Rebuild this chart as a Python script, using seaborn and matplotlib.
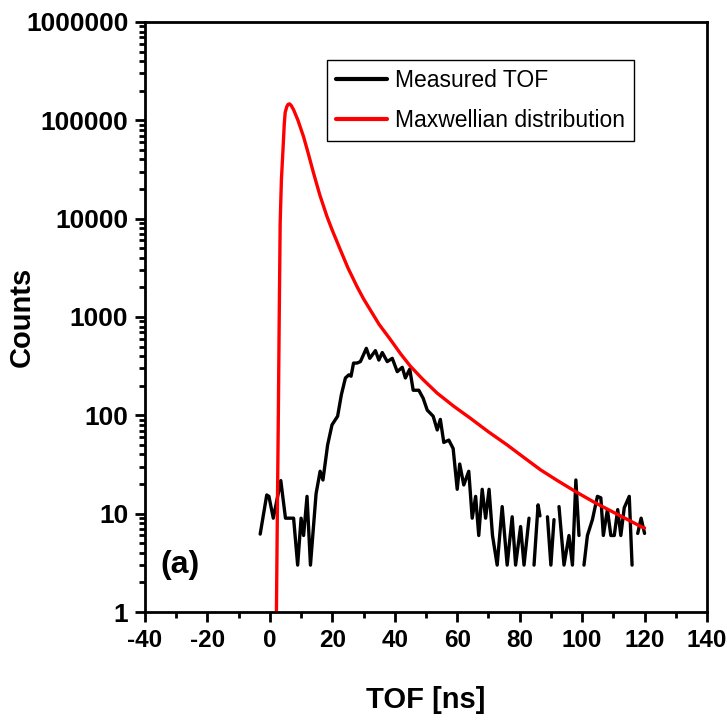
import numpy as np
import pandas as pd
import matplotlib
matplotlib.use("Agg")
import matplotlib.pyplot as plt
from matplotlib.ticker import FixedLocator, FuncFormatter, LogLocator, MultipleLocator, NullFormatter
from matplotlib.lines import Line2D
import seaborn as sns

# ---------------- data ----------------
tof_measured = [-3.1, -1.0, -0.3, 1.1, 3.5, 5.0, 6.3, 7.6, 8.9, 10.0, 10.8, 11.9, 13.0,
                14.8, 16.1, 17.0, 18.5, 19.9, 21.7, 22.9, 24.2, 25.3, 26.0, 26.8, 27.9,
                29.0, 30.9, 32.0, 33.8, 34.9, 36.0, 37.6, 39.2, 40.8, 42.4, 43.4, 44.8,
                45.9, 47.7, 49.1, 50.4, 52.3, 53.6, 54.6, 55.7, 57.3, 58.7, 60.0, 60.8,
                62.1, 63.7, 64.8, 65.9, 66.9, 68.0, 69.1, 70.2, 71.3, 72.8, 74.4, 76.0,
                77.6, 78.7, 80.3, 81.4, 83.0, 83.8, 84.6, 85.9, 86.5, 87.7, 88.9, 90.0,
                91.0, 91.8, 92.6, 94.2, 95.8, 96.9, 98.0, 99.0, 99.8, 100.6, 101.7, 103.3,
                104.9, 106.0, 106.8, 108.1, 109.2, 110.3, 111.4, 112.4, 113.5, 115.1,
                116.0, 117.0, 117.8, 118.9, 120.0]
counts_measured = [6.2, 15.5, 15, 9, 21.7, 9, 9, 9, 3, 9, 6, 15, 3,
                   16, 27, 22, 50, 80, 98, 162, 240, 258, 250, 340, 340,
                   352, 480, 380, 455, 365, 435, 352, 380, 278, 308, 240, 295,
                   180, 180, 149, 113, 98, 71, 91, 53, 56, 46, 17.7, 32,
                   19.6, 27, 9, 15, 6, 17.7, 9, 17.7, 6, 3, 11.8, 3,
                   9.3, 3, 7.4, 3, 9, 0, 3, 12.3, 9.5, 0, 9.3, 3,
                   8.7, 0, 11.8, 3, 6, 3, 22, 6, 0, 3, 6, 8.7,
                   15, 14.5, 6, 11, 6, 6, 11, 6, 11.5, 15,
                   3, 0, 6.3, 9, 6.3]

tof_maxwell = [2.1, 2.4, 2.7, 3.0, 3.3, 3.7, 4.2, 4.6, 4.9, 5.4, 5.8, 6.3, 6.8, 7.6,
               9.0, 10.8, 12.3, 14.0, 16.0, 18.3, 20.0, 22.6, 25.0, 27.9, 30.0, 32.2,
               35.0, 38.6, 42.0, 45.0, 49.0, 53.6, 59.0, 64.3, 70.0, 76.0, 81.0, 86.7,
               92.0, 98.0, 104.0, 110.0, 114.0, 118.9, 120.0]
counts_maxwell = [1, 10, 90, 1000, 9000, 25000, 50000, 90000, 120000, 137000, 145000,
                  147000, 142000, 128000, 100000, 68000, 46000, 29000, 17400, 10500,
                  7600, 4800, 3160, 2040, 1530, 1175, 840, 590, 417, 316, 232, 168, 123,
                  93, 68, 50, 38, 27.9, 21.8, 16.7, 13.0, 10.35, 8.9, 7.38, 7.16]

x_ticks = [-40, -20, 0, 20, 40, 60, 80, 100, 120, 140]
y_ticks = [1, 10, 100, 1000, 10000, 100000, 1000000]
legend_labels = ["Measured TOF", "Maxwellian distribution"]

# ---------------- style ----------------
sns.set_style("ticks")
plt.rcParams["font.family"] = ["Liberation Sans", "DejaVu Sans"]
plt.rcParams["axes.unicode_minus"] = False
plt.rcParams["text.color"] = "black"
plt.rcParams["axes.labelcolor"] = "black"
plt.rcParams["xtick.color"] = "black"
plt.rcParams["ytick.color"] = "black"

meas = pd.DataFrame({"tof": tof_measured, "counts": counts_measured})
meas["seg"] = (meas["counts"] <= 0).cumsum()
meas = meas[meas["counts"] > 0]
maxw = pd.DataFrame({"tof": tof_maxwell, "counts": counts_maxwell})

fig = plt.figure(figsize=(7.27, 7.23), dpi=100)
ax = fig.add_axes([0.1994, 0.1535, 0.7731, 0.8161])

sns.lineplot(data=meas, x="tof", y="counts", units="seg", estimator=None, sort=False,
             color="black", linewidth=2.4, ax=ax)
sns.lineplot(data=maxw, x="tof", y="counts", estimator=None, sort=False,
             color="#ff0000", linewidth=2.4, ax=ax)

ax.set_yscale("log")
ax.set_xlim(-40, 140)
ax.set_ylim(1, 1e6)

ax.xaxis.set_major_locator(FixedLocator(x_ticks))
ax.xaxis.set_minor_locator(MultipleLocator(10))
ax.yaxis.set_major_locator(FixedLocator(y_ticks))
ax.yaxis.set_major_formatter(FuncFormatter(lambda v, p: f"{int(round(v))}"))
ax.yaxis.set_minor_locator(LogLocator(base=10, subs=np.arange(2, 10)))
ax.yaxis.set_minor_formatter(NullFormatter())

for s in ax.spines.values():
    s.set_visible(True)
    s.set_linewidth(2.0)
    s.set_color("black")

ax.tick_params(axis="both", which="major", direction="out", length=7, width=2.0,
               colors="black", pad=5)
ax.tick_params(axis="x", which="major", labelsize=17.5)
ax.tick_params(axis="y", which="major", labelsize=19)
ax.tick_params(axis="both", which="minor", direction="out", length=4, width=2.0, colors="black")
ax.tick_params(top=False, right=False, which="both")
for lab in ax.get_xticklabels() + ax.get_yticklabels():
    lab.set_fontweight("bold")

ax.set_xlabel("TOF [ns]", fontsize=21, fontweight="bold", va="center")
ax.set_ylabel("Counts", fontsize=21, fontweight="bold", va="center")
ax.xaxis.set_label_coords(0.5, -0.149)
ax.yaxis.set_label_coords(-0.219, 0.5)

ax.text(0.062, 0.08, "(a)", transform=ax.transAxes, fontsize=23, fontweight="bold",
        ha="center", va="center")

handles = [Line2D([], [], color="black", linewidth=3),
           Line2D([], [], color="#ff0000", linewidth=3)]
leg = ax.legend(handles, legend_labels,
                loc="upper left", bbox_to_anchor=(0.324, 0.936), fontsize=16.5,
                frameon=True, fancybox=False, edgecolor="black", framealpha=1,
                borderpad=0.4, handlelength=2.2, handletextpad=0.35, labelspacing=0.75,
                borderaxespad=0)
leg.get_frame().set_linewidth(1.0)

fig.savefig("out.png", dpi=100)
